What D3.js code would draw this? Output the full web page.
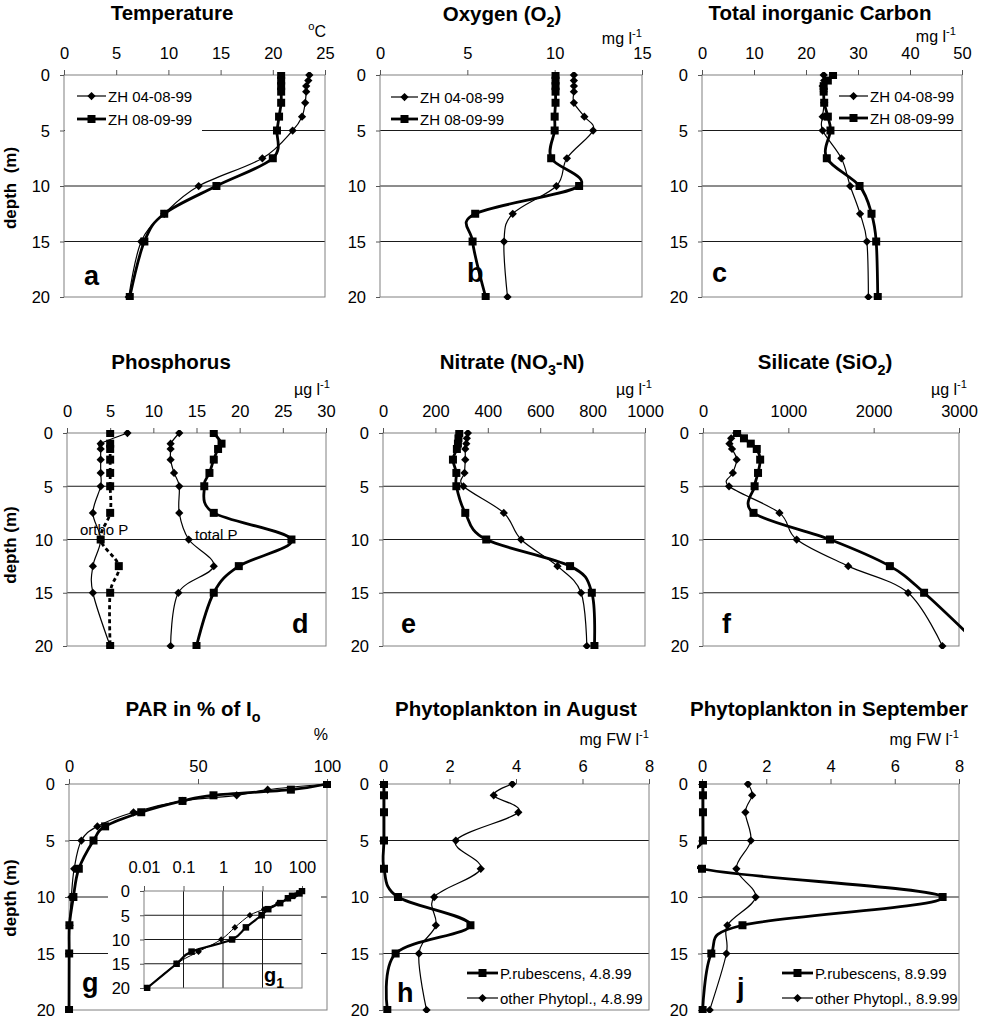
<!DOCTYPE html>
<html lang="en">
<head>
<meta charset="UTF-8">
<title>Depth profiles</title>
<script src="https://d3js.org/d3.v7.min.js"></script>
<style>
  body { margin: 0; background: #fff; }
  svg text { font-family: "Liberation Sans", Arial, Helvetica, sans-serif; fill: #000; }
  .title { font-size: 20.5px; font-weight: bold; }
  .unit { font-size: 16px; }
  .legend { font-size: 15px; }
  .letter { font-size: 27px; font-weight: bold; }
  .frame { fill: none; stroke: #808080; stroke-width: 1; }
  .grid { stroke: #1a1a1a; stroke-width: 1; }
  .ylab { font-size: 17px; font-weight: bold; white-space: pre; }
</style>
</head>
<body>
<svg width="989" height="1018"></svg>
<script>
// sampling depths (m)
const depths = [0, 0.5, 1, 1.5, 2.5, 3.75, 5, 7.5, 10, 12.5, 15, 20];
const phosDepths = [0, 1, 1.5, 2.5, 3.75, 5, 7.5, 10, 12.5, 15, 20];
const phytoDepths = [0, 1, 2.5, 5, 7.5, 10, 12.5, 15, 20];

// a - temperature (°C)
const tempAug = [23.5, 23.4, 23.2, 23.2, 23.1, 22.8, 21.9, 19.0, 12.9, 9.6, 7.4, 6.2];
const tempSep = [20.8, 20.8, 20.8, 20.8, 20.8, 20.6, 20.4, 20.0, 14.6, 9.6, 7.7, 6.3];
// b - oxygen (mg/l)
const oxyAug = [11.1, 11.1, 11.1, 11.1, 11.1, 11.7, 12.2, 10.7, 10.1, 7.6, 7.1, 7.3];
const oxySep = [10.05, 10.05, 10.05, 10.05, 10.05, 10.0, 10.0, 9.8, 11.4, 5.45, 5.3, 6.05];
// c - total inorganic carbon (mg/l)
const ticAug = [23.4, 23.5, 23.2, 23.4, 23.5, 23.2, 23.2, 26.8, 28.5, 30.4, 31.7, 32.0];
const ticSep = [25.2, 24.2, 23.4, 23.4, 23.5, 24.2, 24.7, 24.0, 30.3, 32.6, 33.5, 33.8];
// d - phosphorus (µg/l)
const orthoAug = [7.0, 3.9, 3.9, 3.9, 3.9, 3.9, 3.0, 3.9, 3.0, 3.0, 5.0];
const orthoSep = [5.0, 5.0, 5.0, 5.0, 5.0, 5.0, 5.0, 3.9, 6.0, 5.0, 5.0];
const totalAug = [13.0, 12.0, 12.0, 12.0, 12.4, 13.0, 13.0, 14.1, 17.0, 12.9, 12.0];
const totalSep = [17.0, 17.9, 17.5, 17.0, 16.5, 15.9, 17.0, 26.0, 19.9, 17.0, 15.0];
// e - nitrate (µg/l)
const nitAug = [324, 320, 318, 314, 314, 311, 307, 461, 527, 666, 756, 778];
const nitSep = [291, 288, 286, 282, 267, 280, 280, 314, 394, 714, 797, 807];
// f - silicate (µg/l)
const silAug = [390, 330, 310, 340, 395, 350, 305, 896, 1098, 1702, 2403, 2805];
const silSep = [400, 480, 560, 630, 670, 645, 605, 592, 1488, 2190, 2591, 3250];
// g - PAR (% of surface)
const parAug = [100, 77, 65, 44, 25, 11, 4.8, 2.0, 0.9, 0.24, 0.067, 0.012];
const parSep = [100, 86, 56, 44, 28, 14, 9.5, 3.8, 1.7, 0.16, 0.067, 0.012];
// h, j - phytoplankton (mg FW/l)
const rubAug = [0.03, 0.03, 0.03, 0.03, 0.03, 0.45, 2.63, 0.38, 0.13];
const othAug = [3.89, 3.33, 4.07, 2.19, 2.94, 1.54, 1.59, 1.08, 1.31];
const rubSep = [0.03, 0.03, 0.03, 0.03, 0.0, 7.49, 1.26, 0.29, 0.02];
const othSep = [1.43, 1.56, 1.35, 1.52, 1.07, 1.67, 0.79, 0.76, 0.24];

const depthTicks = [0, 5, 10, 15, 20];
const legAug = "ZH 04-08-99", legSep = "ZH 08-09-99";

const svg = d3.select("svg");
const curve = d3.curveCatmullRom.alpha(0);

function rich(sel, parts) {
  // parts: [text, "sub"|"sup"|undefined]
  let shift = 0;
  parts.forEach(([t, k]) => {
    const target = k === "sub" ? 0.3 : k === "sup" ? -0.45 : 0;
    const ts = sel.append("tspan").text(t).attr("dy", (target - shift) + "em");
    if (k) ts.style("font-size", "70%").attr("dy", ((target - shift) / 0.7) + "em");
    shift = target;
  });
}

function marker(g, type, cx, cy, s) {
  if (type === "square") {
    g.append("rect").attr("x", cx - s / 2).attr("y", cy - s / 2)
      .attr("width", s).attr("height", s).attr("fill", "#000");
  } else {
    const r = s * 0.55;
    g.append("path").attr("d", `M${cx},${cy - r}L${cx + r},${cy}L${cx},${cy + r}L${cx - r},${cy}Z`)
      .attr("fill", "#000");
  }
}

let clipId = 0;
function drawPanel(p) {
  const g = svg.append("g");
  const x = (p.log ? d3.scaleLog() : d3.scaleLinear()).domain(p.domain).range([p.left, p.right]);
  const y = d3.scaleLinear().domain([0, 20]).range([p.top, p.bottom]);
  const ms = p.ms || 8;

  if (p.bg) g.append("rect").attr("x", p.bg[0]).attr("y", p.bg[1])
    .attr("width", p.bg[2]).attr("height", p.bg[3]).attr("fill", "#fff");

  g.selectAll("line.grid").data([5, 10, 15]).join("line").attr("class", "grid")
    .attr("x1", p.left).attr("x2", p.right).attr("y1", d => y(d)).attr("y2", d => y(d));
  if (p.vgrid) g.selectAll("line.vgrid").data(p.vgrid).join("line").attr("class", "grid")
    .attr("x1", d => x(d)).attr("x2", d => x(d)).attr("y1", p.top).attr("y2", p.bottom);
  g.append("rect").attr("class", "frame").attr("x", p.left).attr("y", p.top)
    .attr("width", p.right - p.left).attr("height", p.bottom - p.top);

  const top = g.append("g").attr("transform", `translate(0,${p.top})`)
    .call(d3.axisTop(x).tickValues(p.ticks).tickSize(5).tickPadding(p.pad)
      .tickFormat(p.fmt || d3.format("")));
  const left = g.append("g").attr("transform", `translate(${p.left},0)`)
    .call(d3.axisLeft(y).tickValues(depthTicks).tickSize(4).tickPadding(10));
  [top, left].forEach(a => {
    a.select(".domain").remove();
    a.attr("font-family", null).attr("font-size", 16.5);
    a.selectAll("line").attr("stroke", "#555");
  });
  left.selectAll("text").attr("dy", "0.36em");

  const cid = "clip" + (clipId++);
  g.append("clipPath").attr("id", cid).append("rect")
    .attr("x", p.left - 5).attr("y", p.top - 3)
    .attr("width", p.right - p.left + 10).attr("height", p.bottom - p.top + 6);
  const plot = g.append("g").attr("clip-path", `url(#${cid})`);

  p.series.forEach(s => {
    const pts = s.values.map((v, i) => [x(v), y(s.depths[i])]);
    plot.append("path").attr("d", d3.line().curve(curve)(pts))
      .attr("fill", "none").attr("stroke", "#000")
      .attr("stroke-width", s.thick ? (p.thickW || 2.8) : (p.thinW || 1.2))
      .attr("stroke-dasharray", s.dash || null);
    pts.forEach(([px, py]) => {
      if (px <= p.right + 1) marker(plot, s.marker, px, py, s.marker === "square" ? ms : ms - 0.5);
    });
  });

  if (p.title) rich(g.append("text").attr("class", "title").attr("x", p.title[1]).attr("y", p.title[2])
    .attr("text-anchor", "middle"), p.title[0]);
  if (p.unit) rich(g.append("text").attr("class", "unit").attr("x", p.unit[1]).attr("y", p.unit[2])
    .attr("text-anchor", "end"), p.unit[0]);
  if (p.letter) rich(g.append("text").attr("class", "letter").attr("x", p.letter[1]).attr("y", p.letter[2]), p.letter[0]);
  if (p.ylab) g.append("text").attr("class", "ylab").attr("text-anchor", "middle")
    .attr("transform", `translate(${p.ylab[0]},${p.ylab[1]}) rotate(-90)`).text(p.ylab[2]);

  if (p.legend) {
    const L = p.legend;
    if (L.bg) g.append("rect").attr("x", L.bg[0]).attr("y", L.bg[1]).attr("width", L.bg[2])
      .attr("height", L.bg[3]).attr("fill", "#fff");
    L.rows.forEach((r, i) => {
      const s = p.series[r.idx];
      const yy = L.y[i];
      g.append("line").attr("x1", L.x0).attr("x2", L.x1).attr("y1", yy).attr("y2", yy)
        .attr("stroke", "#000").attr("stroke-width", s.thick ? 2.8 : 1.2);
      marker(g, s.marker, (L.x0 + L.x1) / 2, yy, s.marker === "square" ? 8 : 7.5);
      g.append("text").attr("class", "legend").attr("x", L.x1 + 2).attr("y", yy + 5.5).text(r.label);
    });
  }
  return g;
}

const twoDates = (aug, sep) => [
  { values: aug, depths: depths, marker: "diamond", thick: false },
  { values: sep, depths: depths, marker: "square", thick: true }
];
const phyto = (rub, oth) => [
  { values: rub, depths: phytoDepths, marker: "square", thick: true },
  { values: oth, depths: phytoDepths, marker: "diamond", thick: false }
];

const row1 = { top: 75, bottom: 297, pad: 11 };
const row2 = { top: 433, bottom: 646, pad: 11 };
const row3 = { top: 784, bottom: 1010, pad: 7 };

const panels = [
  Object.assign({
    left: 64, right: 325, domain: [0, 25], ticks: [0, 5, 10, 15, 20, 25],
    series: twoDates(tempAug, tempSep),
    title: [[["Temperature"]], 172, 20], unit: [[["o", "sup"], ["C"]], 326, 37],
    letter: [[["a"]], 84, 285], ylab: [16, 188, "depth  (m)"],
    legend: { x0: 77, x1: 106, y: [96, 119], bg: [65, 83, 137, 50],
      rows: [{ idx: 0, label: legAug }, { idx: 1, label: legSep }] }
  }, row1),
  Object.assign({
    left: 380, right: 642, domain: [0, 15], ticks: [0, 5, 10, 15],
    series: twoDates(oxyAug, oxySep),
    title: [[["Oxygen (O"], ["2", "sub"], [")"]], 502, 21], unit: [[["mg l"], ["-1", "sup"]], 642, 44],
    letter: [[["b"]], 467, 282],
    legend: { x0: 391, x1: 418, y: [97, 119],
      rows: [{ idx: 0, label: legAug }, { idx: 1, label: legSep }] }
  }, row1),
  Object.assign({
    left: 702, right: 962, domain: [0, 50], ticks: [0, 10, 20, 30, 40, 50],
    series: twoDates(ticAug, ticSep),
    title: [[["Total inorganic Carbon"]], 820, 20], unit: [[["mg l"], ["-1", "sup"]], 956, 42],
    letter: [[["c"]], 712, 282],
    legend: { x0: 839, x1: 868, y: [96, 118],
      rows: [{ idx: 0, label: legAug }, { idx: 1, label: legSep }] }
  }, row1),
  Object.assign({
    left: 67, right: 326, domain: [0, 30], ticks: [0, 5, 10, 15, 20, 25, 30],
    series: [
      { values: orthoAug, depths: phosDepths, marker: "diamond", thick: false },
      { values: orthoSep, depths: phosDepths, marker: "square", thick: true, dash: "4,3" },
      { values: totalAug, depths: phosDepths, marker: "diamond", thick: false },
      { values: totalSep, depths: phosDepths, marker: "square", thick: true }
    ],
    title: [[["Phosphorus"]], 171, 369], unit: [[["µg l"], ["-1", "sup"]], 330, 395],
    letter: [[["d"]], 292, 633], ylab: [16, 545, "depth (m)"]
  }, row2),
  Object.assign({
    left: 383, right: 645, domain: [0, 1000], ticks: [0, 200, 400, 600, 800, 1000],
    series: twoDates(nitAug, nitSep),
    title: [[["Nitrate (NO"], ["3", "sub"], ["-N)"]], 512, 369], unit: [[["µg l"], ["-1", "sup"]], 652, 395],
    letter: [[["e"]], 401, 633]
  }, row2),
  Object.assign({
    left: 703, right: 959, domain: [0, 3000], ticks: [0, 1000, 2000, 3000],
    series: twoDates(silAug, silSep),
    title: [[["Silicate (SiO"], ["2", "sub"], [")"]], 825, 369], unit: [[["µg l"], ["-1", "sup"]], 967, 395],
    letter: [[["f"]], 722, 633]
  }, row2),
  Object.assign({
    left: 69, right: 327, domain: [0, 100], ticks: [0, 50, 100],
    series: twoDates(parAug, parSep),
    title: [[["PAR in % of I"], ["o", "sub"]], 193, 716], unit: [[["%"]], 328, 740],
    letter: [[["g"]], 82, 992], ylab: [16, 898, "depth (m)"]
  }, row3),
  Object.assign({
    left: 383, right: 649, domain: [0, 8], ticks: [0, 2, 4, 6, 8],
    series: phyto(rubAug, othAug),
    title: [[["Phytoplankton in August"]], 516, 716], unit: [[["mg FW l"], ["-1", "sup"]], 649, 745],
    letter: [[["h"]], 397, 1002],
    legend: { x0: 467, x1: 498, y: [973, 998],
      rows: [{ idx: 0, label: "P.rubescens, 4.8.99" }, { idx: 1, label: "other Phytopl., 4.8.99" }] }
  }, row3),
  Object.assign({
    left: 702, right: 959, domain: [0, 8], ticks: [0, 2, 4, 6, 8],
    series: phyto(rubSep, othSep),
    title: [[["Phytoplankton in September"]], 829, 716], unit: [[["mg FW l"], ["-1", "sup"]], 959, 745],
    letter: [[["j"]], 737, 997],
    legend: { x0: 782, x1: 813, y: [973, 998],
      rows: [{ idx: 0, label: "P.rubescens, 8.9.99" }, { idx: 1, label: "other Phytopl., 8.9.99" }] }
  }, row3)
];

panels.forEach(drawPanel);

// phosphorus labels
svg.append("text").attr("class", "legend").attr("x", 80).attr("y", 535).text("ortho P");
svg.append("text").attr("class", "legend").attr("x", 195).attr("y", 540).text("total P");

// inset g1: PAR on log scale
drawPanel({
  left: 144, right: 302, top: 891, bottom: 988, pad: 13, log: true,
  domain: [0.01, 100], ticks: [0.01, 0.1, 1, 10, 100], vgrid: [0.1, 1, 10],
  fmt: d => String(d), bg: [108, 850, 213, 153], ms: 6.5, thickW: 2.2, thinW: 1,
  series: twoDates(parAug, parSep),
  letter: [[["g"], ["1", "sub"]], 264, 982]
}).select(".letter").style("font-size", "20px");
</script>
</body>
</html>
